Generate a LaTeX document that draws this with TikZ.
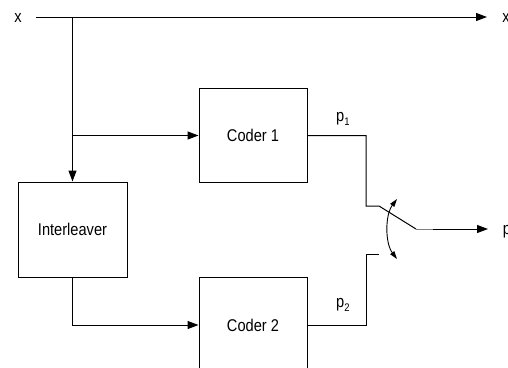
\documentclass[tikz,border=0pt]{standalone}
\usepackage{fontspec}
\newfontfamily\labfont[FakeStretch=0.86]{Liberation Sans}
\usetikzlibrary{arrows.meta}
\tikzset{
  blk/.style={draw=black, line width=1pt, minimum width=108pt, minimum height=94pt, inner sep=0pt, font=\labfont\fontsize{17}{17}\selectfont},
  wire/.style={draw=black, line width=1pt},
  arr/.style={wire, -{Triangle[length=11pt,width=8pt]}},
  lbl/.style={inner sep=0pt, font=\labfont\fontsize{17}{17}\selectfont},
  sw/.style={draw=black, line width=0.9pt, {Triangle[length=8pt,width=5pt]}-{Triangle[length=8pt,width=5pt]}}
}
\newcommand{\subl}[2]{#1\raisebox{-4pt}{\fontsize{11}{11}\selectfont #2}}
\begin{document}
\begin{tikzpicture}[x=1pt,y=-1pt]
\clip (0,0) rectangle (508,367);
\fill[white] (0,0) rectangle (508,367);
% blocks
\node[blk] (c1) at (253,135.5) {Coder 1};
\node[blk, minimum width=109pt, minimum height=95pt] (il) at (72.5,229.5) {Interleaver};
\node[blk, minimum height=96pt] (c2) at (253,325) {Coder 2};
% labels
\node[lbl] (xin) at (18,18) {x};
\node[lbl] (xout) at (506,18) {x};
\node[lbl] (pout) at (507,232) {p};
\node[lbl, anchor=base west] (p1) at (336,121) {\subl{p}{1}};
\node[lbl, anchor=base west] (p2) at (336,307) {\subl{p}{2}};
% coordinates
\coordinate (s) at (36,17);
\coordinate (e) at (487,17);
\coordinate (j1) at (72.5,17);
\coordinate (j2) at (72.5,135.5);
\coordinate (j3) at (72.5,325);
\coordinate (a1) at (366,135.5);
\coordinate (a2) at (366,206);
\coordinate (a3) at (379,206);
\coordinate (b1) at (366,325);
\coordinate (b2) at (366,254);
\coordinate (b3) at (379,254);
\coordinate (m1) at (416,229);
\coordinate (m2) at (433,229);
\coordinate (pe) at (488,229);
\coordinate (t1) at (397,199);
\coordinate (t2) at (397,259);
% connectors
\draw[arr] (s) -- (e);
\draw[arr] (j1) -- (il.north);
\draw[arr] (j2) -- (c1.west);
\draw[arr] (il.south) -- (j3) -- (c2.west);
\draw[wire] (c1.east |- a1) -- (a1) -- (a2) -- (a3) -- (m1);
\draw[wire] (c2.east |- b1) -- (b1) -- (b2) -- (b3);
\draw[draw=gray, line width=1pt] (m1) -- (m2);
\draw[arr] (m2) -- (pe);
\draw[sw] (t1) .. controls (385,215) and (385,243) .. (t2);
\end{tikzpicture}
\end{document}
